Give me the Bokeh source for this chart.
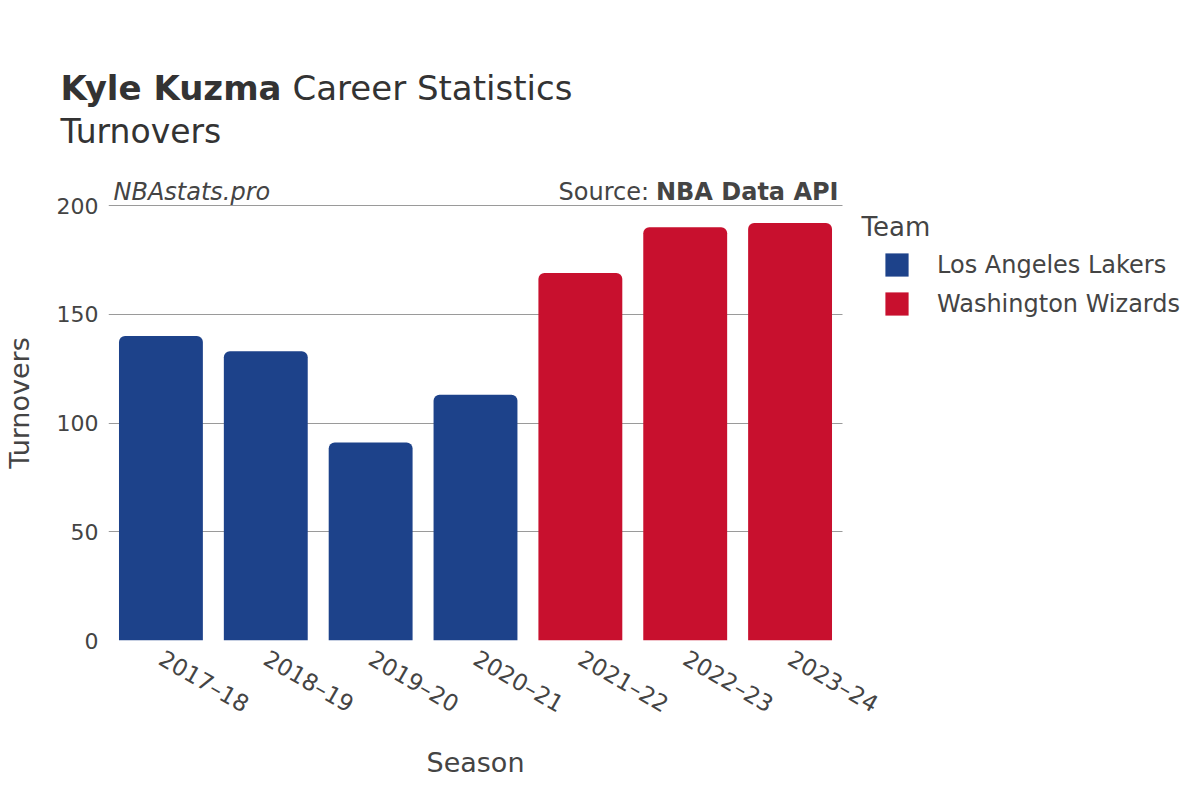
import math
from bokeh.plotting import figure
from bokeh.layouts import column
from bokeh.models import (ColumnDataSource, Label, Legend, LegendItem, Range1d, Grid,
                          FixedTicker, Title)
from bokeh.embed import file_html
from bokeh.resources import INLINE

seasons = ["2017–18", "2018–19", "2019–20", "2020–21", "2021–22", "2022–23", "2023–24"]
turnovers = [140, 133, 91, 113, 169, 190, 192]
teams = ["Los Angeles Lakers"] * 4 + ["Washington Wizards"] * 3
team_names = ["Los Angeles Lakers", "Washington Wizards"]
team_colors = {"Los Angeles Lakers": "#1D428A", "Washington Wizards": "#C8102E"}
y_ticks = [0, 50, 100, 150, 200]
y_max = 200

FONT = "DejaVu Sans"
TXT = "#444444"
TTL = "#333333"

# ---------------- layout constants (page pixels) ----------------
PAGE_W = 1200
HEAD_H = 165          # header height; body frame starts here
F_LEFT, F_RIGHT = 108, 842   # plot area of the bars
F_TOP200, F_BOT = 205, 640   # y of value 200 and value 0
BODY_H = 800 - HEAD_H

# ---------------- header ----------------
hdr = figure(width=PAGE_W, height=HEAD_H, x_range=Range1d(0, PAGE_W), y_range=Range1d(HEAD_H, 0),
             output_backend="svg", toolbar_location=None, title=None,
             x_axis_type=None, y_axis_type=None, min_border=0)
hdr.grid.visible = False
hdr.outline_line_color = None
hdr.frame_align = False

def hlab(text, x, y, size, style="normal", color=TTL):
    hdr.add_layout(Label(x=x, y=y, text=text, text_font=FONT, text_font_size=size,
                         text_font_style=style, text_color=color, text_baseline="alphabetic"))

hlab("Kyle Kuzma", 60, 87, "34px", "bold")
hlab("Career Statistics", 292, 87, "34px")
hlab("Turnovers", 60, 131, "33px")

# ---------------- body ----------------
n = len(seasons)
xs = list(range(n))
x_lo = -0.5
x_hi = x_lo + n * (PAGE_W - F_LEFT) / (F_RIGHT - F_LEFT)   # frame extends to the page edge
y_end = y_max * (F_BOT - HEAD_H) / (F_BOT - F_TOP200)

p = figure(x_range=Range1d(x_lo, x_hi), y_range=Range1d(0, y_end), width=PAGE_W, height=BODY_H,
           output_backend="svg", toolbar_location=None, title=None,
           min_border_left=F_LEFT, min_border_right=0,
           min_border_top=0, min_border_bottom=800 - F_BOT)
p.outline_line_color = None
p.frame_align = False

bars = {}
for t in team_names:
    idx = [i for i, tt in enumerate(teams) if tt == t]
    src = ColumnDataSource(dict(x=[xs[i] for i in idx], top=[turnovers[i] for i in idx]))
    bars[t] = p.vbar(x="x", top="top", width=0.8, source=src, fill_color=team_colors[t],
                     line_color=None, border_radius=(6, 6, 0, 0))

# legend (inside the extended frame, to the right of the bars)
items = [LegendItem(label=t, renderers=[bars[t]]) for t in team_names]
legend = Legend(items=items, location=(882 - F_LEFT, F_BOT - 250 - 68),
                padding=0, margin=0, spacing=10, glyph_width=29, glyph_height=29,
                label_height=28, label_standoff=26, border_line_color=None,
                background_fill_alpha=0, label_text_font=FONT,
                label_text_font_size="24px", label_text_color=TXT)
p.add_layout(legend, "center")

# axes
for ax in (p.xaxis, p.yaxis):
    ax.axis_line_color = None
    ax.major_tick_line_color = None
    ax.minor_tick_line_color = None
    ax.major_label_text_font = FONT
    ax.major_label_text_color = TXT
    ax.axis_label_text_font = FONT
    ax.axis_label_text_font_size = "27px"
    ax.axis_label_text_font_style = "normal"
    ax.axis_label_text_color = TXT
p.yaxis.major_label_text_font_size = "22px"
p.xaxis.major_label_text_font_size = "23px"
p.yaxis.ticker = y_ticks
p.xaxis.ticker = FixedTicker(ticks=xs)
p.xaxis.major_label_overrides = {i: s for i, s in zip(xs, seasons)}
p.xaxis.major_label_orientation = -math.pi / 6
p.yaxis.major_label_standoff = 4
p.xaxis.major_label_standoff = 10
p.yaxis.axis_label = "Turnovers"
p.yaxis.axis_label_standoff = 19

# x-axis title, centred under the bars
p.add_layout(Title(text="Season", align="left", offset=426 - F_LEFT, standoff=26,
                   text_font=FONT, text_font_size="27px", text_font_style="normal",
                   text_color=TXT), "below")

p.xgrid.grid_line_color = None
p.ygrid.grid_line_color = "#9a9a9a"
p.ygrid.grid_line_width = 1
p.ygrid.cross_bounds = (x_lo, x_lo + n)

zero_line = Grid(dimension=1, ticker=FixedTicker(ticks=[0]), grid_line_color="#e8e8e8",
                 grid_line_width=3, cross_bounds=(x_lo, x_lo + n))
p.add_layout(zero_line)

# annotations inside the frame (screen units from frame bottom-left)
def blab(text, x, y, size, style="normal", align="left", color=TXT):
    p.add_layout(Label(x=x - F_LEFT, y=F_BOT - y, x_units="screen", y_units="screen",
                       text=text, text_font=FONT, text_font_size=size, text_font_style=style,
                       text_color=color, text_align=align, text_baseline="alphabetic"))

blab("NBAstats.pro", 113, 191, "24px", "italic")
blab("Source:", 558, 191, "24px")
blab("NBA Data API", 838, 191, "24px", "bold", align="right")
blab("Team", 861, 226, "26px")

layout = column(hdr, p)
open("out.html", "w").write(file_html(layout, INLINE))
